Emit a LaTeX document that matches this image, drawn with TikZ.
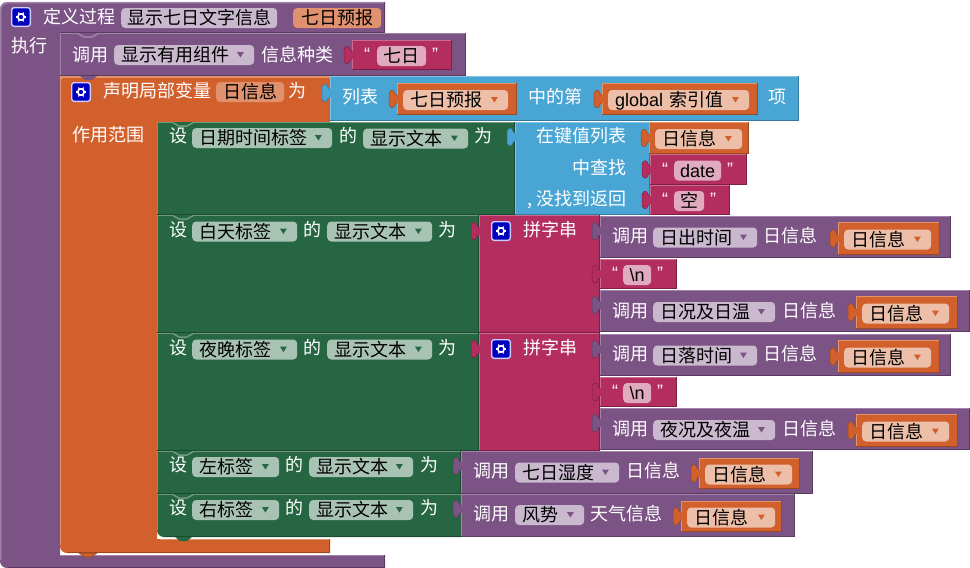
\documentclass[tikz,border=0pt]{standalone}
\usepackage{fontspec}
\setmainfont{Noto Sans CJK SC}
\newfontfamily\latinfont{Liberation Sans}
\usepackage{tikz}

\definecolor{pur}{HTML}{7C5385}
\definecolor{puredge}{HTML}{A383AB}
\definecolor{purdark}{HTML}{5A3C61}
\definecolor{purpale}{HTML}{C9B8CE}
\definecolor{grn}{HTML}{266642}
\definecolor{grnedge}{HTML}{6E9A80}
\definecolor{grndark}{HTML}{1A4A2F}
\definecolor{grnpale}{HTML}{A8C2B3}
\definecolor{org}{HTML}{D2602C}
\definecolor{orgedge}{HTML}{E39468}
\definecolor{orgdark}{HTML}{9C4820}
\definecolor{orgpale}{HTML}{EDBFA8}
\definecolor{salmon}{HTML}{E0916D}
\definecolor{blu}{HTML}{49A6D4}
\definecolor{bluedge}{HTML}{80C4E4}
\definecolor{bludark}{HTML}{3578A0}
\definecolor{pnk}{HTML}{B32D5E}
\definecolor{pnkedge}{HTML}{C96C8E}
\definecolor{pnkdark}{HTML}{801F43}
\definecolor{pnkpale}{HTML}{E1ABBF}

\tikzset{
	lab/.style={text=white, inner sep=0pt, text height=16pt, text depth=2.5pt, font=\fontsize{18}{20}\selectfont},
	fld/.style={text=black, rounded corners=4pt, inner xsep=7pt, inner ysep=.75pt, text height=16pt, text depth=2.5pt, font=\fontsize{18}{20}\selectfont},
	qmark/.style={lab, font=\fontsize{18}{20}\latinfont}
}

% colour, x1, y1, x2, y2
\newcommand{\blockbox}[5]{
	\fill[#1] (#2,#3) rectangle (#4,#5);
	\draw[#1edge, line width=1.5pt] (#2+.7,#5) -- (#2+.7,#3+.7) -- (#4,#3+.7);
	\draw[#1dark, line width=1pt] (#2,#5-.5) -- (#4-.5,#5-.5) -- (#4-.5,#3);
}
% colour, x, y of the middle
\newcommand{\knob}[3]{
	\fill[#1, draw=#1dark, line width=.5pt, rounded corners=2pt] (#2+1,#3-3) -- (#2-3,#3-4) -- (#2-4,#3-9) -- (#2-9,#3-8)
		-- (#2-9,#3+8) -- (#2-4,#3+9) -- (#2-3,#3+4) -- (#2+1,#3+3) -- cycle;
	\fill[#1] (#2-2,#3-3.5) rectangle (#2+1.5,#3+3.5);
}
% colour, middle x, y
\newcommand{\notch}[3]{
	\fill[#1] (#2-10,#3) -- (#2-4,#3+4) -- (#2+4,#3+4) -- (#2+10,#3) -- cycle;
	\draw[#1edge, line width=1.5pt] (#2-10,#3+.7) -- (#2-4,#3+4) -- (#2+4,#3+4) -- (#2+10,#3+.7);
}
% colour, name, x, y, width, text
\newcommand{\dropfld}[6]{
	\node[fld, fill=#1pale, anchor=west, text width=\dimexpr#5pt-14pt\relax, align=left] (#2) at (#3,#4) {#6};
	\fill[#1] (#2.east) ++(-17.5,-3) -- ++(7,0) -- ++(-3.5,5.5) -- cycle;
}
% x, y of the middle
\newcommand{\gearicon}[2]{
	\fill[white!80!blue, rounded corners=3pt] (#1-10,#2-10) rectangle (#1+10,#2+10);
	\fill[blue!75!black, rounded corners=2.5pt] (#1-8.7,#2-8.7) rectangle (#1+8.7,#2+8.7);
	\draw[white, line width=1.6pt] (#1,#2) circle (3.2);
	\foreach \a in {0,60,...,300} \draw[white, line width=1.2pt] (#1,#2) ++(\a:3.5) -- ++(\a:1.7);
}
% name, x1, y1, x2, y2, width of the field, text
\newcommand{\varblock}[7]{
	\pgfmathsetmacro{\ymid}{(#3+#5)/2}
	\blockbox{org}{#2}{#3}{#4}{#5}
	\knob{org}{#2+1}{\ymid}
	\dropfld{org}{#1}{#2+6}{\ymid+1}{#6}{#7}
}
% name, x1, y1, x2, y2, x of the field, width of the field, text
\newcommand{\strblock}[8]{
	\pgfmathsetmacro{\ymid}{(#3+#5)/2}
	\blockbox{pnk}{#2}{#3}{#4}{#5}
	\knob{pnk}{#2+1}{\ymid}
	\node[fld, fill=pnkpale, minimum width=#7, inner xsep=0pt, anchor=west] (#1) at (#6,\ymid+1) {#8};
	\node[qmark] (#1l) at (#2+15,\ymid-1) {“};
	\node[qmark] (#1r) at (#6+#7+9,\ymid-1) {”};
}

\begin{document}
\begin{tikzpicture}[x=1pt,y=-1pt]
	\useasboundingbox (0,0) rectangle (970,568);

	%procedure
	\fill[pur] (0,300) [rounded corners=7pt] -- (0,2) -- (30,2) [sharp corners] -- (385,2) -- (385,32) -- (60,32) -- (60,555) -- (385,555) -- (385,568) [rounded corners=7pt] -- (0,568) -- (0,300);
	\draw[puredge, line width=1.5pt] (.7,560) [rounded corners=7pt] -- (.7,2.7) -- (30,2.7) [sharp corners] -- (385,2.7);
	\draw[purdark, line width=1pt] (384.5,2) -- (384.5,32) -- (60,32);
	\draw[puredge, line width=1.5pt] (60,555.7) -- (385,555.7);
	\draw[purdark, line width=1pt] (384.5,555) -- (384.5,567.5) -- (8,567.5);

	%local variable
	\fill[org] (60,300) [rounded corners=7pt] -- (60,76) -- (70,76) [sharp corners] -- (330,76) -- (330,122) -- (157,122) -- (157,539) -- (330,539) -- (330,553) [rounded corners=7pt] -- (60,553) -- (60,300);
	\draw[orgedge, line width=1.5pt] (60.7,545) -- (60.7,77) -- (330,77);
	\draw[orgedge, line width=1.5pt] (160,539.7) -- (330,539.7);
	\draw[orgdark, line width=1pt] (329.5,539) -- (329.5,552.5) -- (67,552.5);
	\fill[org, draw=orgdark, line width=.6pt] (79,553) -- (85,557) -- (91,557) -- (97,553) -- cycle;

	%call at the top
	\blockbox{pur}{60}{33}{466}{76}
	\notch{pur}{88}{33}
	\fill[pur] (80,76) -- (85,80) -- (92,80) -- (97,76) -- cycle;
	\strblock{strseven}{352}{40}{452}{70}{377}{49}{七日}
	\node[lab] (callhead) at (90,55) {调用};
	\dropfld{pur}{fldhelper}{114}{55}{140}{显示有用组件}
	\node[lab] (kindlab) at (297,54.5) {信息种类};

	%setters
	\blockbox{grn}{157}{122}{515}{215}
	\notch{grn}{183}{122}
	\blockbox{grn}{157}{215}{479}{333}
	\notch{grn}{183}{215}
	\blockbox{grn}{157}{333}{479}{451}
	\notch{grn}{183}{333}
	\blockbox{grn}{157}{451}{461}{494}
	\notch{grn}{183}{451}
	\fill[grn] (157,500) [rounded corners=7pt] -- (157,537) -- (170,537) [sharp corners] -- (461,537) -- (461,494) -- (157,494) -- cycle;
	\draw[grnedge, line width=1.5pt] (157.7,530) -- (157.7,494.7) -- (461,494.7);
	\draw[grndark, line width=1pt] (165,536.5) -- (461,536.5);
	\notch{grn}{183}{494}
	\fill[grn] (175,537) -- (180,541) -- (187,541) -- (192,537) -- cycle;

	%list item
	\blockbox{blu}{330}{76}{799}{121}
	\knob{blu}{331}{93}
	\varblock{fldlist}{397}{83}{517}{115}{105}{七日预报}
	\varblock{fldidx}{602}{83}{758}{115}{141}{{\latinfont global} 索引值}
	\node[lab] (listlab) at (360,97) {列表};
	\node[lab] (nthlab) at (555,97) {中的第};
	\node[lab] (itemlab) at (777,97) {项};

	%lookup
	\blockbox{blu}{515}{122}{650}{215}
	\knob{blu}{516}{137}
	\node[lab, anchor=east] (lookupa) at (627,136) {在键值列表};
	\node[lab, anchor=east] (lookupb) at (627,168) {中查找};
	\node[lab, anchor=east] (lookupc) at (627,199) {, 没找到返回};
	\varblock{fldinfoa}{649}{122}{749}{154}{87}{日信息}
	\strblock{strdate}{650}{154}{747}{185}{674}{47}{\latinfont date}
	\strblock{strnone}{650}{185}{730}{215}{674}{30}{空}

	%join 1
	\blockbox{pnk}{479}{215}{600}{333}
	\knob{pnk}{480}{231}
	\gearicon{501}{231}
	\node[lab] (joinalab) at (550,230) {拼字串};
	\blockbox{pur}{600}{216}{951}{258}
	\knob{pur}{601}{231}
	\node[lab] (callb) at (630,236) {调用};
	\dropfld{pur}{fldrise}{653}{237.5}{104}{日出时间}
	\node[lab] (argb) at (790,236) {日信息};
	\varblock{fldinfob}{838}{222}{940}{255}{87}{日信息}
	\strblock{strnla}{600}{259}{677}{289}{623}{28}{\latinfont\textbackslash n}
	\blockbox{pur}{600}{290}{970}{332}
	\knob{pur}{601}{305}
	\node[lab] (callc) at (630,311) {调用};
	\dropfld{pur}{flddaytemp}{653}{312}{122}{日况及日温}
	\node[lab] (argc) at (809,311) {日信息};
	\varblock{fldinfoc}{856}{296}{958}{329}{87}{日信息}

	%join 2
	\blockbox{pnk}{479}{333}{600}{451}
	\knob{pnk}{480}{349}
	\gearicon{501}{349}
	\node[lab] (joinblab) at (550,348) {拼字串};
	\blockbox{pur}{600}{334}{951}{376}
	\knob{pur}{601}{349}
	\node[lab] (calld) at (630,354) {调用};
	\dropfld{pur}{fldset}{653}{355.5}{104}{日落时间}
	\node[lab] (argd) at (790,354) {日信息};
	\varblock{fldinfod}{838}{340}{940}{373}{87}{日信息}
	\strblock{strnlb}{600}{377}{677}{407}{623}{28}{\latinfont\textbackslash n}
	\blockbox{pur}{600}{408}{970}{450}
	\knob{pur}{601}{423}
	\node[lab] (calle) at (630,429) {调用};
	\dropfld{pur}{fldnighttemp}{653}{430}{122}{夜况及夜温}
	\node[lab] (arge) at (809,429) {日信息};
	\varblock{fldinfoe}{856}{414}{958}{447}{87}{日信息}

	%last two calls
	\blockbox{pur}{461}{451}{813}{494}
	\knob{pur}{462}{466}
	\node[lab] (callf) at (491,471) {调用};
	\dropfld{pur}{fldhumid}{515}{472.5}{104}{七日湿度}
	\node[lab] (argf) at (653,471) {日信息};
	\varblock{fldinfof}{699}{458}{800}{489}{87}{日信息}
	\blockbox{pur}{461}{494}{795}{537}
	\knob{pur}{462}{509}
	\node[lab] (callg) at (491,514) {调用};
	\dropfld{pur}{fldwind}{515}{515}{69}{风势}
	\node[lab] (argg) at (626,514) {天气信息};
	\varblock{fldinfog}{681}{501}{782}{532}{88}{日信息}

	%setter labels
	\node[lab] (seta) at (178,136) {设};
	\dropfld{grn}{fldtime}{192}{138}{140}{日期时间标签}
	\node[lab] (ofa) at (348,136) {的};
	\dropfld{grn}{fldtexta}{363}{138.5}{105}{显示文本}
	\node[lab] (isa) at (483,136) {为};
	\node[lab] (setb) at (178,230) {设};
	\dropfld{grn}{fldday}{192}{231.5}{105}{白天标签}
	\node[lab] (ofb) at (312,230) {的};
	\dropfld{grn}{fldtextb}{327}{231.5}{105}{显示文本}
	\node[lab] (isb) at (447,230) {为};
	\node[lab] (setc) at (178,348) {设};
	\dropfld{grn}{fldnight}{192}{349.5}{105}{夜晚标签}
	\node[lab] (ofc) at (312,348) {的};
	\dropfld{grn}{fldtextc}{327}{349.5}{105}{显示文本}
	\node[lab] (isc) at (447,348) {为};
	\node[lab] (setd) at (178,465) {设};
	\dropfld{grn}{fldleft}{192}{467}{87}{左标签}
	\node[lab] (ofd) at (294,465) {的};
	\dropfld{grn}{fldtextd}{309}{467}{104}{显示文本}
	\node[lab] (isd) at (429,465) {为};
	\node[lab] (sete) at (178,508) {设};
	\dropfld{grn}{fldright}{192}{510}{87}{右标签}
	\node[lab] (ofe) at (294,508) {的};
	\dropfld{grn}{fldtexte}{309}{510}{104}{显示文本}
	\node[lab] (ise) at (429,508) {为};

	%header labels
	\gearicon{21}{17}
	\node[lab] (deflab) at (79,17) {定义过程};
	\node[fld, fill=purpale, minimum width=156, inner xsep=0pt, anchor=west] (fldproc) at (121,18) {显示七日文字信息};
	\node[fld, fill=salmon, minimum width=88, inner xsep=0pt, anchor=west] (fldparam) at (293,18) {七日预报};
	\node[lab] (runlab) at (30,46) {执行};
	\gearicon{81}{92}
	\node[lab] (varlab) at (157,91) {声明局部变量};
	\node[fld, fill=salmon, minimum width=68, inner xsep=0pt, anchor=west] (fldvar) at (216,92) {日信息};
	\node[lab] (tolab) at (297,91) {为};
	\node[lab] (scopelab) at (108,135) {作用范围};
\end{tikzpicture}
\end{document}
